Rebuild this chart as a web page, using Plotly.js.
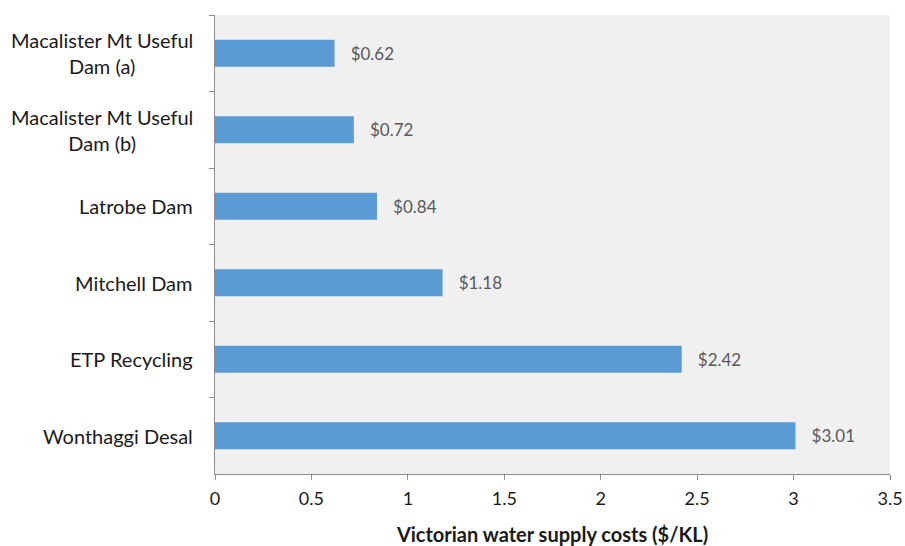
<!DOCTYPE html>
<html>
<head>
<meta charset="utf-8">
<script src="https://cdn.plot.ly/plotly-3.0.1.min.js"></script>
<style>
  html, body { margin: 0; padding: 0; background: #ffffff; }
  #chart { width: 905px; height: 546px; }
</style>
</head>
<body>
<div id="chart"></div>
<script>
// Water supply options and their cost per kilolitre
const sources = [
  "Macalister Mt Useful<br>Dam (a)",
  "Macalister Mt Useful<br>Dam (b)",
  "Latrobe Dam",
  "Mitchell Dam",
  "ETP Recycling",
  "Wonthaggi Desal"
];
const costs = [0.62, 0.72, 0.84, 1.18, 2.42, 3.01];
const xTicks = [0, 0.5, 1, 1.5, 2, 2.5, 3, 3.5];

const FONT = "Lato, 'Open Sans', sans-serif";
const AXIS_GREY = "#8c8c8c";

const trace = {
  type: "bar",
  orientation: "h",
  x: costs,
  y: sources,
  width: 0.35,
  marker: { color: "#5b9bd5" },
  texttemplate: "\u00a0\u00a0\u00a0$%{x:.2f}",
  textposition: "outside",
  cliponaxis: false,
  textfont: { family: FONT, size: 17, color: "#595959" },
  hoverinfo: "skip"
};

// Category names drawn centred on each bar row, to the left of the axis
const labelNotes = sources.map(s => ({
  xref: "paper", x: 0, xshift: -20, xanchor: "right",
  yref: "y", y: s, yanchor: "middle",
  text: s, align: "center", showarrow: false,
  font: { family: FONT, size: 20, color: "#1a1a1a" }
}));

const layout = {
  width: 905, height: 546,
  margin: { l: 215, r: 15, t: 15, b: 72 },
  paper_bgcolor: "#ffffff",
  plot_bgcolor: "#f0f0f0",
  showlegend: false,
  bargap: 0.65,
  xaxis: {
    range: [0, 3.5],
    tickvals: xTicks,
    ticktext: xTicks.map(String),
    showgrid: false, zeroline: false,
    showline: true, linecolor: AXIS_GREY, linewidth: 1,
    ticks: "outside", ticklen: 5, tickcolor: AXIS_GREY,
    ticklabelstandoff: 3,
    tickfont: { family: FONT, size: 18, color: "#1a1a1a" },
    title: {
      text: "<b>Victorian water supply costs ($/KL)</b>",
      font: { family: FONT, size: 20, color: "#1a1a1a" },
      standoff: 20
    }
  },
  yaxis: {
    type: "category",
    autorange: "reversed",
    showgrid: false, zeroline: false,
    showline: true, linecolor: AXIS_GREY, linewidth: 1,
    ticks: "outside", ticklen: 5, tickcolor: AXIS_GREY,
    tickson: "boundaries",
    showticklabels: false
  },
  annotations: labelNotes
};

Plotly.newPlot("chart", [trace], layout, { displayModeBar: false, staticPlot: true });
</script>
</body>
</html>
